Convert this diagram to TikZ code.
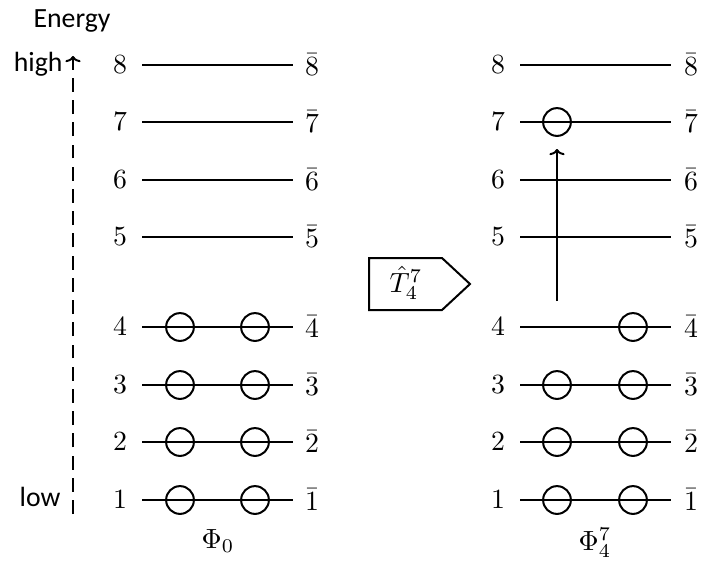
\documentclass[tikz,border=0pt]{standalone}
\usepackage{fontspec}
\newfontfamily\labfont{Carlito}
\usetikzlibrary{arrows.meta}
\begin{document}
\begin{tikzpicture}[x=0.36pt,y=-0.36pt,
  lvl/.style={line width=0.72pt},
  num/.style={inner sep=0pt},
  occ/.style={circle,draw,line width=0.72pt,minimum size=10pt,inner sep=0pt,fill=none},
  sftext/.style={font=\labfont,inner sep=0pt},
  arr/.style={line width=0.72pt,-{To[length=2.2pt,width=5.5pt]}},
  opline/.style={line width=0.72pt}
]
\useasboundingbox (0,0) rectangle (701,560);
% energy axis
\node[sftext] (energy) at (72,21) {Energy};
\node[sftext,anchor=east] (high) at (63,64) {high};
\node[sftext,anchor=east] (low) at (61,497) {low};
\coordinate (axbot) at (73,514);
\coordinate (axtop) at (73,56);
\draw[arr,dashed,dash pattern=on 5pt off 3pt] (axbot) -- (axtop);
% levels
\foreach \n/\y in {1/500,2/442,3/385,4/327,5/237,6/180,7/122,8/65}{
  \coordinate (La\n) at (142,\y);
  \coordinate (Lb\n) at (293,\y);
  \node[num] (Ln\n) at (120,\y) {$\n$};
  \node[num] (Lm\n) at (312,\y) {$\bar{\n}$};
  \draw[lvl] (La\n) -- (Lb\n);
  \coordinate (Ra\n) at (520,\y);
  \coordinate (Rb\n) at (671,\y);
  \node[num] (Rn\n) at (498,\y) {$\n$};
  \node[num] (Rm\n) at (691,\y) {$\bar{\n}$};
  \draw[lvl] (Ra\n) -- (Rb\n);
}
% occupied orbitals, left
\foreach \n/\y in {1/500,2/442,3/385,4/327}{
  \node[occ] (Lo\n) at (180,\y) {};
  \node[occ] (Lp\n) at (255,\y) {};
}
% occupied orbitals, right
\foreach \n/\y in {1/500,2/442,3/385}{
  \node[occ] (Ro\n) at (557,\y) {};
  \node[occ] (Rp\n) at (633,\y) {};
}
\node[occ] (Rp4) at (633,327) {};
\node[occ] (Ro7) at (557,122) {};
% excitation arrow
\coordinate (exs) at (557,301);
\coordinate (exe) at (557,149);
\draw[arr] (exs) -- (exe);
% operator
\coordinate (o1) at (369,258);
\coordinate (o2) at (442,258);
\coordinate (o3) at (470,284);
\coordinate (o4) at (442,310);
\coordinate (o5) at (369,310);
\draw[opline] (o1) -- (o2) -- (o3) -- (o4) -- (o5) -- cycle;
\node (optext) at (406,283) {$\hat{T}_4^7$};
% state labels
\node (phi0) at (218,541) {$\Phi_0$};
\node (phi47) at (595,543) {$\Phi_4^7$};
\end{tikzpicture}
\end{document}
